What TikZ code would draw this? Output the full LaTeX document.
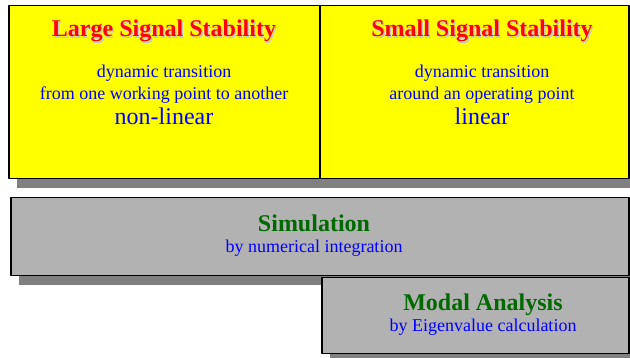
\documentclass[tikz,border=0pt]{standalone}
\usepackage{fontspec}
\setmainfont{Liberation Serif}
\definecolor{titlered}{RGB}{255,0,0}
\definecolor{textblue}{RGB}{0,0,255}
\definecolor{simgreen}{RGB}{0,105,0}
\definecolor{boxyellow}{RGB}{255,255,0}
\definecolor{boxgray}{RGB}{178,178,178}
\definecolor{shadowgray}{RGB}{128,128,128}
\definecolor{textshade}{RGB}{200,200,200}
\newcommand{\shadetext}[1]{\makebox[0pt][l]{\hspace{1.5pt}\raisebox{-1.5pt}{\color{textshade}#1}}#1}
\begin{document}
\begin{tikzpicture}[x=1pt, y=-1pt, line join=round,
  box/.style={draw=black, line width=1.5pt, anchor=north west, inner sep=0pt},
  ybox/.style={box, fill=boxyellow},
  gbox/.style={box, fill=boxgray},
  title/.style={anchor=base, inner sep=0pt, font=\rmfamily\fontsize{24}{26}\selectfont\bfseries},
  small/.style={anchor=base, inner sep=0pt, text=textblue, font=\rmfamily\fontsize{18}{20}\selectfont},
  big/.style={anchor=base, inner sep=0pt, text=textblue, font=\rmfamily\fontsize{24}{26}\selectfont}]
\useasboundingbox (0,0) rectangle (630,358);
\clip (0,0) rectangle (630,358);
% shadows
\fill[shadowgray] (17,15) rectangle (637,188);
\fill[shadowgray] (19,207) rectangle (637,285);
\fill[shadowgray] (330,287) rectangle (637,363);
% boxes
\node[ybox, minimum width=311pt, minimum height=173pt] (large) at (8,5) {};
\node[ybox, minimum width=309pt, minimum height=173pt] (small) at (319,5) {};
\node[gbox, minimum width=618pt, minimum height=78pt] (sim) at (10,197) {};
\node[gbox, minimum width=307pt, minimum height=76pt] (modal) at (321,277) {};
% large signal
\node[title, text=titlered] (largeT) at (164,37) {\shadetext{Large Signal Stability}};
\node[small] (largeA) at (164,78) {dynamic transition};
\node[small] (largeB) at (164,100) {from one working point to another};
\node[big] (largeC) at (164,125) {non-linear};
% small signal
\node[title, text=titlered] (smallT) at (482,37) {\shadetext{Small Signal Stability}};
\node[small] (smallA) at (482,78) {dynamic transition};
\node[small] (smallB) at (482,100) {around an operating point};
\node[big] (smallC) at (482,125) {linear};
% methods
\node[title, text=simgreen] (simT) at (314,232) {Simulation};
\node[small] (simA) at (314,253) {by numerical integration};
\node[title, text=simgreen] (modalT) at (483,311) {Modal Analysis};
\node[small] (modalA) at (483,332) {by Eigenvalue calculation};
\end{tikzpicture}
\end{document}
